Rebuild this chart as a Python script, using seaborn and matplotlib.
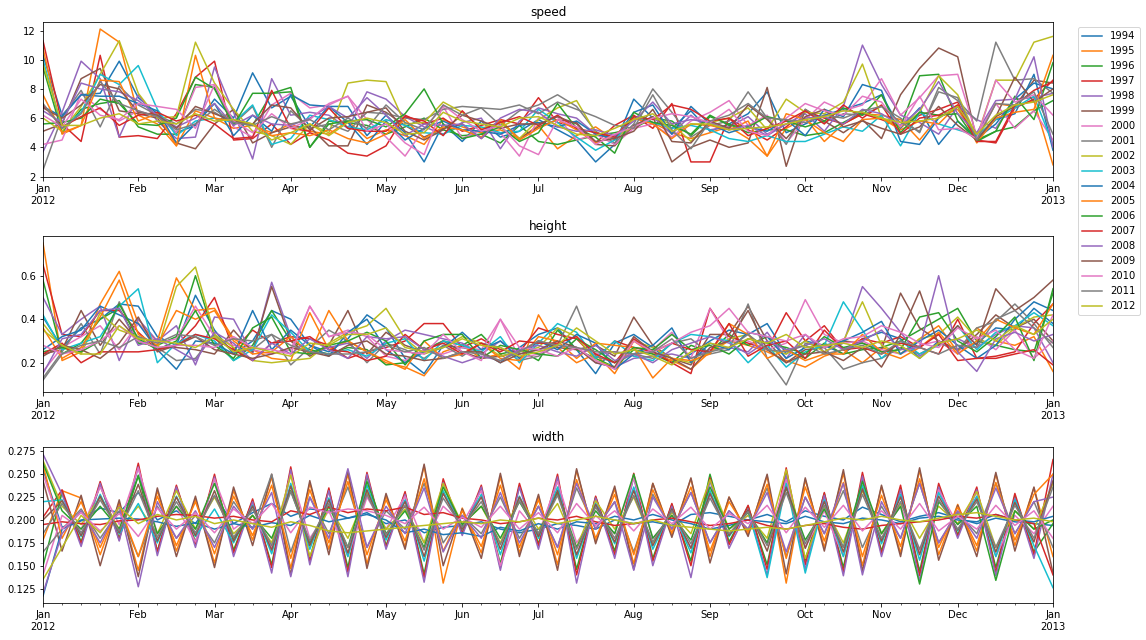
import numpy as np
import pandas as pd
import matplotlib
matplotlib.use("Agg")
import matplotlib.pyplot as plt
import seaborn as sns

years = [str(y) for y in range(1994, 2013)]
week_start = "2012-01-01"   # first weekly period (W-SUN), 54 weeks

# ---------------- speed ----------------
sp1994 = [10.3, 6.2, 7.6, 7.7, 9.9, 7.4, 6.3, 5.0, 5.5,
          7.3, 6.0, 9.1, 6.7, 7.5, 5.4, 6.8, 6.8, 4.8,
          6.2, 5.0, 3.0, 5.6, 4.4, 5.8, 4.7, 5.1, 5.9,
          5.2, 4.5, 3.0, 4.2, 7.3, 6.0, 5.3, 6.5, 5.1,
          5.6, 6.3, 7.8, 5.0, 5.6, 6.2, 6.6, 7.0, 7.6,
          5.3, 6.7, 4.2, 5.8, 4.6, 5.9, 6.3, 9.0, 3.8]
sp1995 = [10.8, 4.9, 5.5, 12.1, 11.2, 6.2, 5.6, 4.1, 6.5,
          6.0, 5.3, 5.5, 5.0, 5.6, 5.1, 4.9, 5.8, 4.6,
          5.2, 4.8, 4.2, 5.9, 5.4, 5.0, 5.2, 4.6, 5.5,
          3.9, 4.8, 5.4, 4.5, 6.0, 5.7, 5.0, 4.6, 5.0,
          5.4, 4.6, 3.4, 5.3, 6.0, 4.4, 5.6, 6.3, 6.2,
          5.9, 4.5, 6.1, 6.6, 4.6, 7.0, 6.8, 7.2, 2.8]
sp1996 = [9.5, 5.0, 6.6, 7.0, 7.2, 5.4, 4.9, 4.9, 8.3,
          8.1, 5.7, 5.5, 7.7, 7.8, 4.0, 5.8, 5.7, 5.5,
          4.9, 5.4, 6.0, 5.2, 4.8, 4.9, 4.3, 5.5, 4.4,
          4.2, 4.5, 4.8, 5.0, 5.3, 6.0, 5.8, 4.8, 6.1,
          5.6, 5.0, 5.2, 5.2, 4.8, 5.0, 5.7, 6.4, 6.0,
          5.4, 8.9, 9.0, 5.8, 4.5, 5.1, 5.4, 6.5, 7.2]
sp1997 = [11.3, 5.6, 4.4, 10.3, 4.7, 4.8, 4.6, 6.3, 8.8,
          9.9, 4.5, 4.6, 5.6, 4.2, 5.0, 4.5, 3.6, 3.4,
          4.1, 6.2, 5.6, 6.0, 5.1, 5.5, 5.9, 5.6, 7.4,
          5.7, 5.4, 4.3, 5.5, 6.2, 5.3, 7.0, 3.0, 3.0,
          6.0, 5.2, 4.5, 5.4, 6.5, 6.0, 5.6, 6.3, 5.9,
          5.4, 6.2, 6.6, 7.1, 4.5, 4.3, 6.7, 7.3, 8.6]
sp1998 = [3.7, 6.4, 9.9, 8.7, 4.7, 7.6, 5.8, 4.6, 4.7,
          9.5, 6.4, 3.2, 8.7, 6.2, 6.4, 6.2, 5.3, 7.8,
          7.3, 6.1, 5.4, 4.9, 5.7, 6.0, 3.9, 5.8, 6.7,
          6.3, 6.0, 4.9, 4.6, 5.5, 6.1, 4.9, 6.2, 5.2,
          5.4, 6.1, 4.9, 5.6, 6.3, 5.1, 6.8, 11.0, 8.3,
          6.2, 5.7, 4.9, 6.8, 5.9, 5.3, 7.3, 7.4, 7.7]
sp1999 = [5.1, 5.6, 8.7, 9.4, 6.5, 6.3, 6.0, 4.3, 3.9,
          5.6, 6.6, 4.3, 5.0, 5.4, 5.4, 4.1, 4.1, 6.9,
          6.4, 5.5, 4.7, 5.3, 5.6, 4.6, 5.8, 4.6, 5.4,
          5.9, 5.7, 4.2, 4.1, 5.5, 6.1, 3.0, 4.0, 4.5,
          4.0, 4.3, 8.1, 2.7, 6.6, 5.8, 5.0, 5.9, 4.6,
          7.6, 9.4, 10.8, 10.2, 4.5, 6.1, 6.8, 8.6, 8.4]
sp2000 = [4.2, 4.5, 7.7, 6.6, 5.8, 6.5, 6.1, 5.0, 8.1,
          8.3, 5.4, 4.7, 6.9, 7.7, 6.7, 6.9, 7.5, 5.9,
          4.7, 3.4, 5.3, 6.8, 4.6, 5.2, 5.0, 3.4, 6.0,
          6.1, 4.5, 4.9, 4.2, 5.3, 5.6, 4.7, 5.8, 6.4,
          7.2, 5.5, 6.2, 4.3, 5.9, 7.1, 6.5, 6.9, 8.7,
          6.2, 7.4, 8.9, 9.0, 4.8, 7.0, 5.3, 6.5, 4.5]
sp2001 = [2.45, 6.1, 7.9, 5.4, 8.2, 6.9, 6.2, 5.6, 6.6,
          6.4, 5.6, 6.8, 4.0, 6.5, 5.3, 5.6, 5.1, 6.4,
          6.3, 6.0, 5.9, 6.6, 6.8, 6.7, 5.5, 6.5, 6.9,
          7.6, 6.8, 5.1, 4.3, 5.6, 8.0, 6.4, 4.7, 5.5,
          5.8, 7.8, 6.0, 4.2, 6.6, 5.7, 6.3, 6.2, 6.8,
          6.0, 5.0, 8.1, 7.2, 5.8, 11.2, 8.6, 8.7, 7.7]
sp2002 = [6.0, 5.1, 6.8, 9.0, 11.3, 7.7, 6.0, 6.1, 11.2,
          8.4, 6.6, 5.1, 4.8, 4.2, 5.6, 5.0, 8.4, 8.6,
          8.5, 5.6, 5.7, 7.1, 6.4, 5.3, 5.7, 4.6, 5.9,
          6.7, 7.2, 5.0, 4.7, 5.4, 6.0, 5.6, 4.4, 5.7,
          6.0, 6.7, 5.2, 7.3, 6.4, 6.3, 7.1, 9.7, 6.0,
          5.4, 6.4, 8.9, 7.6, 4.7, 8.6, 8.6, 11.2, 11.6]
sp2003 = [10.0, 5.3, 6.4, 9.0, 8.3, 9.6, 6.6, 4.8, 5.8,
          6.0, 5.7, 6.9, 4.2, 4.6, 6.2, 5.9, 5.4, 5.2,
          5.9, 5.5, 5.0, 4.9, 5.5, 5.4, 5.0, 5.1, 6.6,
          5.7, 4.7, 3.8, 4.5, 6.1, 5.7, 5.3, 5.5, 5.2,
          4.6, 4.4, 4.8, 4.4, 4.4, 4.9, 5.4, 5.1, 6.2,
          4.1, 6.4, 5.6, 5.2, 4.8, 5.9, 6.7, 7.5, 4.2]
sp2004 = [6.8, 6.1, 7.6, 7.5, 7.5, 7.0, 6.5, 4.3, 5.6,
          7.0, 4.8, 6.2, 5.1, 7.6, 6.9, 6.8, 5.7, 4.2,
          5.8, 4.5, 5.3, 5.8, 5.2, 5.1, 4.9, 5.5, 5.7,
          5.4, 5.8, 4.9, 4.6, 6.4, 6.9, 4.9, 6.8, 5.6,
          5.0, 5.4, 5.1, 5.9, 4.8, 6.6, 6.1, 8.3, 7.9,
          4.4, 4.2, 6.0, 6.8, 4.6, 5.6, 7.3, 8.4, 8.0]
sp2005 = [7.6, 5.0, 5.5, 8.6, 8.5, 5.8, 6.3, 4.1, 10.3,
          6.0, 5.8, 5.6, 4.8, 5.0, 4.8, 5.2, 4.6, 4.3,
          4.9, 5.9, 4.6, 5.4, 5.2, 4.7, 5.9, 4.5, 5.3,
          5.9, 5.2, 4.3, 4.8, 6.0, 5.6, 4.6, 5.6, 5.5,
          5.2, 5.8, 3.4, 6.3, 5.9, 5.0, 4.4, 5.9, 6.0,
          5.2, 5.8, 5.6, 6.9, 4.3, 6.0, 6.4, 6.6, 10.3]
sp2006 = [5.6, 5.7, 6.0, 7.3, 7.0, 5.6, 5.5, 6.0, 8.8,
          8.0, 5.5, 7.7, 7.7, 8.1, 4.0, 5.6, 5.8, 5.9,
          5.4, 6.3, 8.0, 5.6, 4.6, 4.9, 5.4, 4.4, 5.0,
          7.0, 5.3, 4.7, 3.6, 6.4, 5.7, 5.5, 4.9, 6.2,
          5.5, 5.4, 6.1, 5.8, 5.4, 5.8, 6.7, 6.2, 7.6,
          5.0, 6.4, 6.2, 6.3, 4.4, 5.1, 7.5, 5.9, 9.8]
sp2007 = [6.9, 5.4, 6.1, 6.7, 5.5, 6.2, 6.4, 5.8, 6.2,
          5.6, 4.6, 4.7, 7.9, 5.3, 5.1, 6.7, 5.3, 5.1,
          5.1, 6.1, 5.8, 4.8, 6.5, 5.2, 5.7, 6.1, 5.5,
          6.2, 5.3, 5.0, 4.7, 6.1, 5.9, 6.9, 6.6, 5.8,
          6.0, 4.8, 5.3, 5.8, 6.5, 5.6, 6.9, 6.0, 6.9,
          4.9, 6.0, 6.2, 6.9, 4.4, 4.4, 6.9, 7.9, 8.5]
sp2008 = [6.5, 5.7, 8.4, 8.0, 7.8, 7.2, 6.2, 5.4, 6.0,
          7.0, 5.5, 6.2, 5.6, 5.5, 6.0, 6.8, 6.0, 7.4,
          6.2, 4.8, 5.6, 5.5, 5.6, 4.6, 6.0, 6.6, 6.4,
          5.4, 5.1, 5.2, 4.8, 5.8, 7.1, 5.6, 5.9, 5.7,
          5.2, 5.5, 4.8, 5.6, 6.0, 6.1, 5.6, 6.6, 6.3,
          5.5, 6.6, 8.5, 6.3, 5.0, 7.2, 7.3, 10.2, 4.0]
sp2009 = [6.7, 6.0, 6.9, 8.3, 8.0, 6.4, 6.2, 5.3, 6.8,
          6.3, 5.8, 5.6, 6.9, 6.7, 5.2, 6.0, 6.1, 6.4,
          6.7, 5.1, 4.5, 5.2, 6.2, 5.8, 5.3, 5.6, 5.6,
          6.1, 5.6, 4.4, 4.6, 5.1, 6.6, 4.4, 4.3, 5.8,
          5.3, 6.9, 5.9, 4.6, 6.1, 6.6, 5.4, 5.8, 5.3,
          4.9, 5.4, 6.8, 5.5, 4.5, 6.1, 8.8, 7.1, 8.0]
sp2010 = [6.2, 5.4, 7.3, 6.2, 5.9, 7.0, 6.8, 6.6, 5.3,
          8.3, 5.8, 5.0, 6.3, 5.3, 5.9, 7.0, 7.5, 5.1,
          5.6, 4.3, 3.5, 6.9, 5.9, 5.1, 5.5, 4.1, 3.5,
          5.9, 5.4, 4.2, 4.9, 5.4, 6.0, 6.3, 6.1, 5.7,
          6.6, 5.1, 4.8, 6.0, 7.0, 6.5, 6.2, 7.5, 7.1,
          5.4, 7.5, 5.2, 5.3, 4.6, 8.6, 7.1, 7.6, 6.2]
sp2011 = [7.0, 5.3, 6.3, 8.5, 7.0, 6.5, 6.1, 5.2, 5.6,
          6.6, 5.7, 5.5, 6.1, 5.6, 5.9, 5.2, 6.0, 5.3,
          6.9, 5.7, 5.2, 6.9, 6.2, 6.7, 6.6, 6.9, 6.3,
          7.1, 6.6, 6.1, 5.5, 5.3, 7.6, 5.2, 3.9, 5.8,
          6.2, 7.0, 6.0, 5.9, 5.7, 6.2, 6.0, 6.5, 6.8,
          5.7, 5.1, 7.8, 7.4, 4.5, 7.0, 6.9, 7.8, 4.9]
sp2012 = [9.7, 5.5, 5.5, 6.0, 6.3, 5.6, 5.8, 5.6, 6.3,
          5.8, 5.9, 5.6, 4.5, 5.0, 5.6, 4.8, 5.7, 6.0,
          5.7, 4.9, 5.0, 6.4, 5.8, 5.6, 5.4, 6.0, 6.1,
          5.5, 4.9, 4.8, 5.3, 5.9, 6.3, 5.1, 5.6, 5.6,
          5.2, 5.3, 5.4, 5.6, 5.9, 6.1, 6.5, 6.4, 6.0,
          5.7, 5.8, 6.0, 6.8, 4.9, 6.2, 6.9, 7.1, 7.6]

# ---------------- height ----------------
ht1994 = [.41, .27, .36, .40, .47, .46, .32, .28, .51,
          .35, .24, .30, .44, .40, .28, .25, .31, .42,
          .36, .22, .15, .28, .27, .25, .20, .27, .33,
          .36, .26, .15, .29, .33, .27, .20, .24, .30,
          .35, .33, .38, .24, .30, .28, .24, .31, .34,
          .31, .22, .30, .26, .29, .36, .35, .45, .38]
ht1995 = [.75, .21, .25, .47, .62, .38, .30, .59, .44,
          .45, .31, .26, .22, .21, .43, .26, .30, .25,
          .20, .18, .14, .25, .28, .22, .24, .17, .42,
          .27, .20, .24, .15, .30, .24, .21, .17, .25,
          .30, .28, .25, .21, .18, .23, .26, .20, .27,
          .24, .31, .37, .25, .36, .30, .28, .32, .16]
ht1996 = [.58, .24, .29, .40, .45, .29, .28, .32, .60,
          .32, .21, .28, .44, .30, .26, .24, .27, .26,
          .19, .20, .26, .30, .28, .33, .24, .26, .21,
          .35, .26, .22, .18, .26, .24, .20, .28, .25,
          .33, .28, .32, .26, .22, .29, .24, .26, .27,
          .30, .35, .40, .45, .30, .28, .26, .25, .52]
ht1997 = [.65, .33, .32, .44, .44, .34, .26, .28, .37,
          .50, .26, .35, .29, .32, .31, .28, .22, .25,
          .27, .30, .38, .38, .27, .31, .26, .25, .36,
          .33, .31, .22, .30, .27, .25, .20, .15, .45,
          .32, .29, .26, .43, .30, .37, .26, .31, .29,
          .32, .27, .24, .40, .22, .23, .25, .38, .47]
ht1998 = [.50, .33, .40, .46, .21, .40, .30, .37, .19,
          .41, .40, .24, .57, .32, .24, .27, .29, .22,
          .30, .35, .33, .31, .29, .24, .30, .24, .26,
          .28, .27, .20, .18, .22, .23, .24, .22, .26,
          .27, .25, .34, .22, .33, .25, .29, .55, .45,
          .34, .23, .29, .31, .27, .33, .37, .36, .20]
ht1999 = [.24, .26, .44, .28, .40, .30, .27, .27, .26,
          .24, .35, .25, .55, .30, .23, .28, .44, .24,
          .34, .28, .25, .30, .25, .22, .23, .25, .30,
          .27, .26, .28, .23, .41, .28, .22, .19, .33,
          .33, .46, .30, .20, .26, .27, .30, .29, .26,
          .52, .36, .30, .26, .33, .42, .36, .40, .30]
ht2000 = [.16, .27, .32, .37, .26, .38, .29, .31, .46,
          .32, .28, .26, .24, .26, .46, .32, .35, .32,
          .23, .21, .26, .24, .27, .26, .40, .22, .24,
          .28, .27, .24, .25, .23, .26, .34, .22, .45,
          .30, .30, .26, .29, .49, .33, .29, .30, .26,
          .24, .28, .30, .24, .32, .26, .35, .22, .30]
ht2001 = [.13, .25, .38, .24, .48, .30, .27, .21, .22,
          .33, .25, .26, .33, .19, .27, .35, .30, .20,
          .29, .26, .22, .28, .23, .29, .27, .21, .23,
          .28, .46, .23, .20, .24, .22, .29, .31, .24,
          .26, .47, .22, .098, .29, .27, .17, .20, .22,
          .27, .24, .29, .26, .36, .39, .47, .38, .27]
ht2002 = [.38, .27, .24, .43, .35, .32, .26, .55, .64,
          .33, .27, .21, .20, .21, .22, .29, .34, .37,
          .45, .31, .24, .27, .32, .29, .23, .25, .27,
          .36, .32, .21, .18, .30, .27, .22, .20, .25,
          .31, .33, .26, .24, .30, .25, .30, .48, .28,
          .24, .31, .33, .41, .31, .28, .36, .41, .42]
ht2003 = [.42, .26, .29, .32, .46, .54, .20, .29, .33,
          .30, .21, .26, .42, .34, .25, .24, .26, .23,
          .29, .31, .21, .30, .28, .25, .32, .20, .29,
          .38, .34, .22, .30, .23, .21, .29, .33, .32,
          .30, .20, .28, .18, .25, .28, .48, .35, .22,
          .30, .24, .28, .37, .26, .34, .37, .43, .37]
ht2004 = [.26, .32, .35, .46, .42, .38, .26, .17, .30,
          .29, .24, .44, .26, .35, .28, .23, .34, .40,
          .26, .20, .25, .27, .34, .26, .30, .22, .30,
          .26, .33, .29, .17, .24, .28, .36, .20, .29,
          .26, .34, .32, .22, .27, .28, .30, .34, .39,
          .24, .30, .35, .28, .22, .28, .40, .48, .44]
ht2005 = [.36, .22, .27, .41, .58, .33, .28, .44, .40,
          .44, .30, .24, .25, .32, .24, .44, .30, .25,
          .21, .17, .30, .22, .24, .29, .22, .21, .32,
          .30, .22, .29, .28, .27, .13, .22, .21, .24,
          .38, .33, .22, .26, .21, .24, .24, .33, .25,
          .22, .27, .34, .24, .30, .40, .36, .33, .47]
ht2006 = [.25, .27, .25, .30, .47, .31, .26, .30, .44,
          .28, .22, .36, .41, .25, .24, .28, .30, .34,
          .30, .19, .30, .33, .33, .22, .28, .26, .24,
          .23, .31, .26, .20, .27, .26, .33, .26, .28,
          .24, .31, .29, .27, .24, .32, .27, .29, .25,
          .26, .41, .43, .30, .25, .32, .41, .21, .54]
ht2007 = [.24, .29, .20, .25, .25, .25, .26, .28, .33,
          .31, .26, .21, .29, .30, .32, .26, .25, .21,
          .23, .33, .26, .29, .24, .29, .25, .30, .29,
          .29, .32, .24, .20, .31, .25, .29, .26, .25,
          .38, .23, .28, .30, .22, .35, .26, .27, .24,
          .29, .27, .33, .21, .22, .22, .24, .26, .19]
ht2008 = [.15, .31, .33, .44, .45, .28, .31, .26, .21,
          .34, .29, .21, .29, .24, .31, .26, .22, .32,
          .31, .32, .26, .23, .20, .23, .21, .26, .28,
          .25, .23, .28, .21, .24, .20, .26, .29, .32,
          .29, .24, .30, .26, .28, .31, .26, .30, .35,
          .26, .27, .60, .25, .16, .31, .34, .30, .33]
ht2009 = [.23, .28, .26, .22, .29, .41, .25, .28, .32,
          .26, .24, .22, .24, .27, .25, .23, .28, .30,
          .24, .23, .21, .22, .25, .25, .20, .24, .26,
          .30, .27, .20, .18, .32, .25, .22, .17, .27,
          .30, .44, .26, .20, .24, .25, .21, .27, .18,
          .33, .53, .28, .37, .28, .54, .44, .50, .58]
ht2010 = [.28, .24, .26, .30, .37, .30, .27, .28, .28,
          .27, .32, .27, .26, .24, .46, .32, .34, .33,
          .26, .25, .24, .33, .25, .21, .40, .27, .26,
          .23, .27, .21, .17, .30, .25, .29, .34, .37,
          .45, .34, .32, .30, .33, .27, .31, .32, .37,
          .34, .29, .27, .36, .31, .35, .26, .22, .42]
ht2011 = [.12, .24, .28, .30, .27, .32, .29, .33, .32,
          .28, .31, .30, .33, .28, .25, .24, .24, .25,
          .28, .25, .27, .22, .25, .24, .21, .25, .30,
          .28, .27, .25, .25, .24, .25, .31, .22, .25,
          .27, .33, .26, .25, .28, .24, .26, .28, .24,
          .30, .27, .24, .28, .27, .40, .44, .36, .29]
ht2012 = [.35, .28, .24, .24, .37, .31, .30, .29, .27,
          .32, .25, .27, .25, .23, .29, .28, .33, .33,
          .36, .27, .25, .27, .31, .28, .27, .23, .25,
          .28, .36, .30, .24, .26, .23, .19, .25, .29,
          .27, .31, .29, .33, .27, .28, .29, .27, .30,
          .28, .22, .29, .31, .35, .30, .37, .33, .40]

# ---------------- width ----------------
wd1994 = [.255, .192, .199, .213, .208, .230, .200, .210, .196,
          .226, .196, .208, .218, .204, .212, .210, .202, .208,
          .196, .200, .186, .192, .194, .198, .190, .186, .190,
          .196, .194, .190, .200, .196, .198, .194, .206, .208,
          .204, .200, .206, .198, .210, .204, .200, .214, .206,
          .198, .204, .208, .202, .196, .202, .198, .196, .194]
wd1995 = [.178, .232, .224, .162, .219, .145, .232, .166, .223,
          .153, .232, .178, .247, .147, .240, .168, .250, .152,
          .226, .171, .259, .131, .213, .164, .247, .164, .226,
          .151, .254, .176, .234, .152, .240, .183, .245, .160,
          .225, .184, .248, .131, .244, .170, .251, .150, .236,
          .164, .254, .162, .217, .166, .250, .172, .235, .160]
wd1996 = [.150, .230, .176, .238, .180, .249, .166, .236, .176,
          .246, .167, .221, .151, .254, .158, .233, .148, .248,
          .172, .229, .141, .242, .186, .235, .152, .237, .174,
          .244, .146, .225, .166, .248, .158, .217, .155, .250,
          .176, .215, .151, .251, .156, .229, .148, .246, .166,
          .235, .144, .236, .184, .233, .148, .226, .165, .196]
wd1997 = [.203, .233, .174, .242, .178, .262, .165, .238, .173,
          .250, .164, .223, .148, .258, .155, .235, .143, .252,
          .170, .231, .137, .245, .185, .238, .148, .240, .172,
          .250, .140, .226, .162, .251, .155, .218, .150, .246,
          .173, .216, .146, .257, .151, .230, .143, .252, .163,
          .238, .139, .240, .182, .236, .143, .229, .162, .266]
wd1998 = [.272, .228, .171, .240, .177, .258, .161, .236, .170,
          .247, .160, .220, .142, .255, .151, .232, .138, .250,
          .168, .228, .132, .241, .183, .236, .145, .236, .168,
          .247, .131, .224, .158, .247, .150, .215, .137, .243,
          .169, .212, .140, .249, .146, .227, .139, .248, .160,
          .233, .133, .236, .180, .233, .139, .224, .158, .250]
wd1999 = [.243, .166, .227, .150, .222, .138, .235, .160, .226,
          .148, .236, .172, .250, .140, .243, .162, .254, .147,
          .229, .168, .261, .150, .212, .158, .251, .160, .228,
          .145, .256, .174, .237, .146, .240, .181, .246, .153,
          .225, .182, .250, .141, .246, .166, .255, .144, .238,
          .160, .257, .156, .216, .160, .252, .166, .236, .142]
wd2000 = [.140, .205, .190, .236, .195, .257, .185, .215, .176,
          .245, .190, .205, .170, .250, .180, .210, .160, .225,
          .190, .226, .175, .215, .196, .232, .150, .210, .185,
          .242, .175, .205, .185, .246, .180, .205, .170, .228,
          .190, .205, .175, .244, .170, .210, .160, .235, .185,
          .215, .165, .233, .195, .230, .160, .205, .185, .215]
wd2001 = [.165, .190, .212, .180, .210, .160, .215, .180, .205,
          .175, .220, .190, .250, .165, .225, .185, .236, .170,
          .210, .190, .240, .175, .205, .185, .225, .180, .215,
          .170, .235, .190, .220, .165, .228, .190, .230, .175,
          .210, .190, .235, .160, .225, .185, .232, .170, .215,
          .180, .240, .175, .208, .185, .240, .185, .220, .170]
wd2002 = [.265, .215, .195, .225, .190, .215, .185, .232, .190,
          .225, .185, .205, .175, .249, .160, .215, .180, .230,
          .190, .212, .175, .240, .195, .215, .175, .225, .190,
          .218, .170, .221, .190, .225, .175, .208, .185, .244,
          .190, .205, .180, .255, .158, .215, .175, .232, .185,
          .218, .180, .215, .196, .231, .170, .210, .190, .240]
wd2003 = [.220, .222, .182, .228, .185, .218, .175, .226, .182,
          .212, .175, .216, .163, .240, .168, .224, .160, .238,
          .178, .222, .155, .232, .190, .228, .162, .226, .180,
          .236, .158, .218, .174, .236, .168, .212, .164, .232,
          .182, .210, .137, .240, .142, .222, .160, .238, .174,
          .228, .156, .230, .188, .226, .160, .222, .172, .126]
wd2004 = [.117, .190, .200, .201, .202, .201, .198, .193, .197,
          .190, .196, .192, .197, .194, .205, .198, .202, .206,
          .200, .186, .190, .184, .186, .182, .192, .188, .196,
          .190, .198, .196, .204, .200, .206, .200, .196, .190,
          .194, .200, .198, .196, .204, .198, .196, .202, .200,
          .196, .202, .204, .200, .198, .206, .200, .198, .204]
wd2005 = [.260, .180, .220, .170, .216, .160, .226, .172, .220,
          .163, .226, .183, .238, .158, .233, .175, .242, .162,
          .222, .177, .245, .166, .210, .171, .238, .170, .222,
          .162, .244, .180, .228, .162, .233, .186, .236, .166,
          .220, .187, .239, .158, .236, .177, .241, .160, .227,
          .171, .245, .170, .214, .172, .241, .178, .228, .250]
wd2006 = [.262, .210, .190, .215, .190, .248, .185, .215, .190,
          .240, .180, .205, .180, .232, .175, .215, .170, .242,
          .185, .210, .170, .236, .195, .215, .180, .220, .185,
          .230, .170, .210, .185, .250, .180, .205, .178, .236,
          .190, .208, .175, .235, .178, .212, .170, .242, .185,
          .215, .130, .220, .195, .215, .134, .210, .190, .200]
wd2007 = [.195, .198, .196, .195, .199, .200, .204, .206, .205,
          .202, .204, .200, .198, .210, .206, .214, .208, .212,
          .210, .214, .206, .208, .202, .200, .196, .198, .202,
          .200, .204, .198, .194, .196, .200, .202, .198, .194,
          .196, .200, .194, .190, .194, .196, .192, .190, .194,
          .196, .198, .200, .204, .202, .206, .200, .196, .140]
wd2008 = [.120, .185, .210, .175, .215, .127, .220, .180, .210,
          .170, .215, .190, .230, .138, .225, .180, .256, .170,
          .215, .185, .235, .165, .205, .180, .230, .175, .215,
          .170, .240, .190, .220, .145, .225, .190, .230, .175,
          .210, .190, .230, .165, .225, .185, .240, .140, .220,
          .180, .240, .175, .210, .180, .235, .185, .220, .225]
wd2009 = [.200, .221, .183, .226, .186, .239, .177, .225, .183,
          .232, .177, .215, .167, .237, .172, .222, .164, .233,
          .181, .220, .160, .229, .190, .225, .168, .225, .182,
          .232, .162, .217, .176, .232, .172, .212, .169, .229,
          .183, .211, .166, .236, .169, .220, .165, .234, .177,
          .225, .162, .226, .189, .223, .165, .219, .176, .243]
wd2010 = [.250, .190, .208, .188, .207, .182, .213, .190, .208,
          .186, .212, .196, .218, .186, .214, .208, .212, .210,
          .205, .196, .214, .190, .203, .192, .215, .190, .208,
          .186, .218, .194, .210, .188, .212, .196, .214, .190,
          .207, .196, .216, .186, .214, .192, .216, .188, .210,
          .190, .218, .188, .204, .190, .216, .194, .210, .180]
wd2011 = [.185, .218, .186, .222, .188, .232, .181, .220, .186,
          .227, .181, .212, .172, .231, .177, .218, .170, .228,
          .184, .216, .167, .224, .192, .220, .173, .221, .185,
          .227, .168, .214, .180, .227, .176, .210, .174, .224,
          .185, .209, .172, .230, .174, .216, .170, .228, .180,
          .220, .168, .222, .190, .220, .170, .216, .180, .236]
wd2012 = [.135, .170, .205, .186, .214, .196, .206, .200, .204,
          .196, .200, .196, .192, .198, .194, .188, .186, .188,
          .190, .192, .194, .196, .198, .196, .200, .198, .202,
          .196, .200, .204, .200, .196, .200, .194, .192, .190,
          .188, .190, .192, .190, .194, .198, .202, .200, .204,
          .200, .198, .202, .206, .208, .204, .200, .202, .198]

speed = [sp1994, sp1995, sp1996, sp1997, sp1998, sp1999, sp2000, sp2001, sp2002, sp2003,
         sp2004, sp2005, sp2006, sp2007, sp2008, sp2009, sp2010, sp2011, sp2012]
height = [ht1994, ht1995, ht1996, ht1997, ht1998, ht1999, ht2000, ht2001, ht2002, ht2003,
          ht2004, ht2005, ht2006, ht2007, ht2008, ht2009, ht2010, ht2011, ht2012]
width = [wd1994, wd1995, wd1996, wd1997, wd1998, wd1999, wd2000, wd2001, wd2002, wd2003,
         wd2004, wd2005, wd2006, wd2007, wd2008, wd2009, wd2010, wd2011, wd2012]

n_weeks = len(sp1994)
rows = []
for yi, yr in enumerate(years):
    for w in range(n_weeks):
        rows.append((w, yr, speed[yi][w], height[yi][w], width[yi][w]))
df = pd.DataFrame(rows, columns=["week", "year", "speed", "height", "width"])

tab10 = sns.color_palette("tab10", 10)
palette = {yr: tab10[i % 10] for i, yr in enumerate(years)}

# weekly (W-SUN) period index of month starts, like pandas' period axis
period0 = pd.Timestamp(week_start) - pd.Timedelta(days=pd.Timestamp(week_start).dayofweek)
months = pd.date_range("2012-01-01", "2013-01-01", freq="MS")
tick_pos = [(m - period0).days // 7 for m in months]
tick_lab = [m.strftime("%b") + ("\n%d" % m.year if m.month == 1 else "") for m in months]

W, H = 1146, 640
fig = plt.figure(figsize=(W / 72, H / 72), dpi=72)
boxes = [(22, 177), (236, 392), (447, 603)]
left, right = 43, 1053
axes = []
for top, bot in boxes:
    axes.append(fig.add_axes([left / W, (H - bot) / H, (right - left) / W, (bot - top) / H]))

for i, (ax, var) in enumerate(zip(axes, ["speed", "height", "width"])):
    sns.lineplot(data=df, x="week", y=var, hue="year", palette=palette,
                 linewidth=1.5, ax=ax, legend=(i == 0))
    ax.set_title(var, fontsize=12)
    ax.set_xlabel("")
    ax.set_ylabel("")
    ax.set_xlim(0, n_weeks - 1)
    ax.set_xticks(tick_pos)
    ax.set_xticklabels(tick_lab)
    ax.set_xticks(range(n_weeks), minor=True)
    ax.tick_params(axis="both", labelsize=10)

handles, labels = axes[0].get_legend_handles_labels()
axes[0].legend(handles, labels, loc="upper left", bbox_to_anchor=(1.02, 1.0),
               fontsize=10, frameon=True)

fig.savefig("out.png", dpi=72)
